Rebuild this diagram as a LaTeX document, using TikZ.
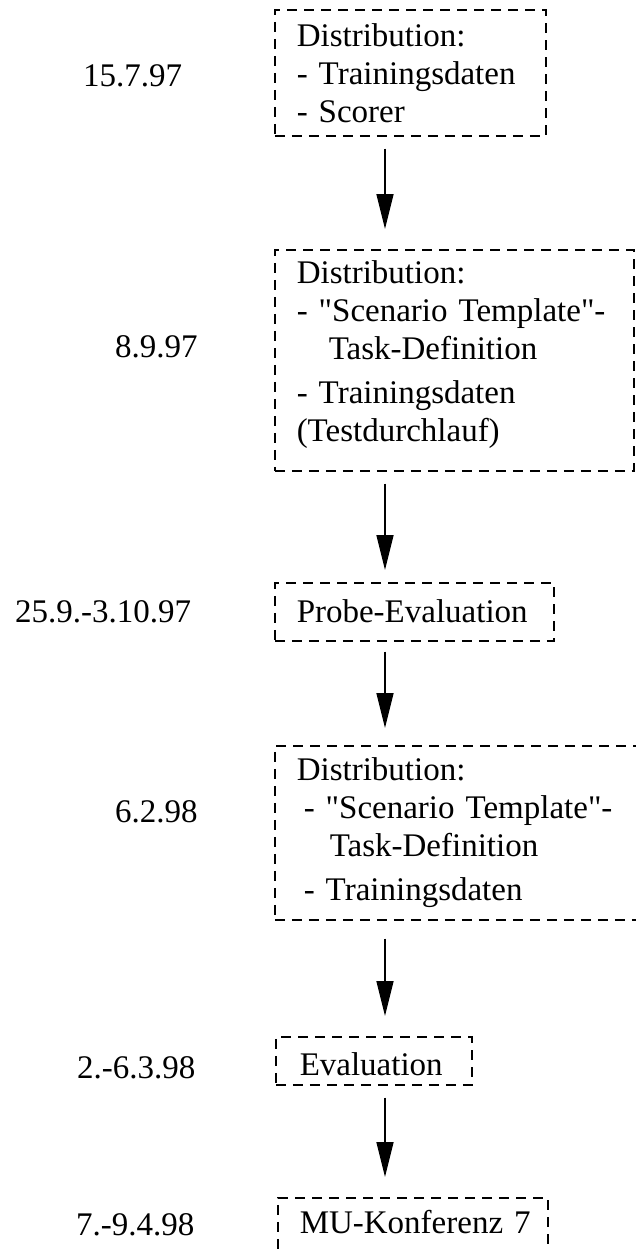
\documentclass[tikz,border=0pt]{standalone}
\usepackage{fontspec}
\newfontfamily\timesfont{Liberation Serif}
\usetikzlibrary{arrows.meta}
\tikzset{
    datenode/.style = {anchor=base west, inner sep=0pt, font=\timesfont\fontsize{33pt}{38pt}\selectfont},
    boxnode/.style = {rectangle, anchor=north west, draw=black, line width=1.5pt, dash pattern=on 10pt off 7pt, inner xsep=22pt, inner ysep=6pt, align=left, font=\timesfont\fontsize{33pt}{38pt}\selectfont},
}

\begin{document}
\begin{tikzpicture}[
	x=1pt,
	y=-1pt
]
\tikzset{
    edgea/.style = {-{Triangle[length=35pt,width=17pt]}, line width=1.5pt, shorten <=12pt, shorten >=20pt}
}
\clip (0,0) rectangle (636,1251);
\coordinate (axis) at (385,0);
%
\node[boxnode, text width=227pt, minimum height=126pt] at (274,9) (b1) {Distribution:\\- Trainingsdaten\\- Scorer};
\node[boxnode, text width=315pt, minimum height=221pt] at (274,249) (b2) {Distribution:\\\mbox{- "Scenario Template"-}\\\hspace*{32pt}Task-Definition\\[6pt]- Trainingsdaten\\(Testdurchlauf)\rule[-19pt]{0pt}{1pt}};
\node[boxnode, text width=235pt, text height=34pt, text depth=12pt] at (274,582) (b3) {\mbox{Probe-Evaluation}};
\node[boxnode, text width=342pt, minimum height=174pt] at (274,745) (b4) {Distribution:\\\hspace*{7pt}\mbox{- "Scenario Template"-}\\\hspace*{33pt}Task-Definition\\[6pt]\hspace*{7pt}- Trainingsdaten};
\node[boxnode, text width=148pt, inner xsep=24pt, text height=33pt, text depth=3pt] at (275,1036) (b5) {Evaluation};
\node[boxnode, text width=226pt, text height=30pt, text depth=23pt] at (277,1197) (b6) {\mbox{MU-Konferenz 7}};
%
\node[datenode] at (83,86) (d1) {15.7.97};
\node[datenode] at (115,357) (d2) {8.9.97};
\node[datenode] at (15,622) (d3) {25.9.-3.10.97};
\node[datenode] at (115,822) (d4) {6.2.98};
\node[datenode] at (77,1078) (d5) {2.-6.3.98};
\node[datenode] at (76,1235) (d6) {7.-9.4.98};
%
\draw[edgea] (b1.south -| axis) -- (b2.north -| axis);
\draw[edgea, shorten >=12pt] (b2.south -| axis) -- (b3.north -| axis);
\draw[edgea, shorten <=10pt, shorten >=17pt] (b3.south -| axis) -- (b4.north -| axis);
\draw[edgea, shorten <=18pt] (b4.south -| axis) -- (b5.north -| axis);
\draw[edgea] (b5.south -| axis) -- (b6.north -| axis);
\end{tikzpicture}
\end{document}
